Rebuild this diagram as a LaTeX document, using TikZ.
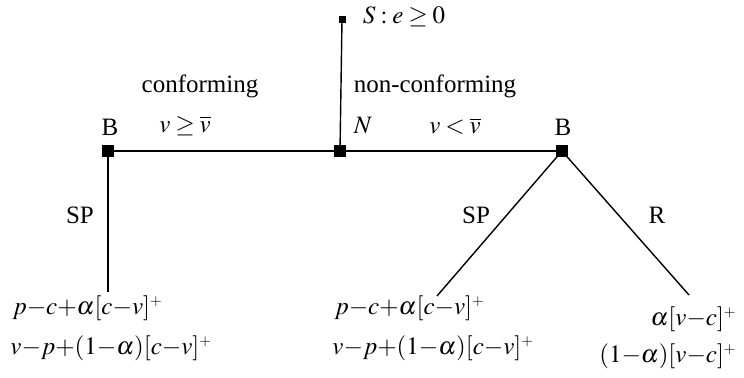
\documentclass[tikz,border=0pt]{standalone}
\usepackage{mathptmx}
\usepackage{fontspec}
\setmainfont{Liberation Serif}
\AtBeginDocument{\medmuskip=0mu\relax\thickmuskip=3.5mu\relax}
\newcommand{\pl}{^{\scriptscriptstyle+}}
\begin{document}
\begin{tikzpicture}[x=0.5pt,y=-0.5pt,
  sq/.style={fill=black,minimum size=6pt,inner sep=0pt,draw=none},
  sqs/.style={fill=black,minimum size=3.5pt,inner sep=0pt,draw=none},
  edge/.style={draw=black,line width=0.7pt},
  lbl/.style={inner sep=0pt,font=\fontsize{12.5}{14}\selectfont}]
\useasboundingbox (0,0) rectangle (744,378);
\node[sqs] (S) at (342,20) {};
\node[sq] (N) at (340,151) {};
\node[sq] (B1) at (108,151) {};
\node[sq] (B2) at (562,151) {};
\coordinate (L1) at (108,292);
\coordinate (L2) at (437,296);
\coordinate (L3) at (689,295);
\draw[edge] (S.center) -- (N.center);
\draw[edge] (B1.center) -- (N.center);
\draw[edge] (N.center) -- (B2.center);
\draw[edge] (B1.center) -- (L1);
\draw[edge] (B2.center) -- (L2);
\draw[edge] (B2.center) -- (L3);
\node[lbl] (tS) at (404,17) {$S:e\geq 0$};
\node[lbl] (tN) at (363,126) {$N$};
\node[lbl] (tB1) at (110,127) {B};
\node[lbl] (tB2) at (563,127) {B};
\node[lbl] (conf) at (200,86) {conforming};
\node[lbl] (nconf) at (435,86) {non-conforming};
\node[lbl] (c1) at (185,126) {$v\geq\overline{v}$};
\node[lbl] (c2) at (455,126) {$v<\overline{v}$};
\node[lbl] (sp1) at (80,215) {SP};
\node[lbl] (sp2) at (476,215) {SP};
\node[lbl] (r) at (657,215) {R};
\node[lbl,anchor=west] (p1a) at (12,308) {$p-c+\alpha[c-v]\pl$};
\node[lbl,anchor=west] (p1b) at (10,348) {$v-p+(1-\alpha)[c-v]\pl$};
\node[lbl,anchor=west] (p2a) at (334,308) {$p-c+\alpha[c-v]\pl$};
\node[lbl,anchor=west] (p2b) at (332,348) {$v-p+(1-\alpha)[c-v]\pl$};
\node[lbl,anchor=east] (p3a) at (737,319) {$\alpha[v-c]\pl$};
\node[lbl,anchor=east] (p3b) at (737,356) {$(1-\alpha)[v-c]\pl$};
\end{tikzpicture}
\end{document}
